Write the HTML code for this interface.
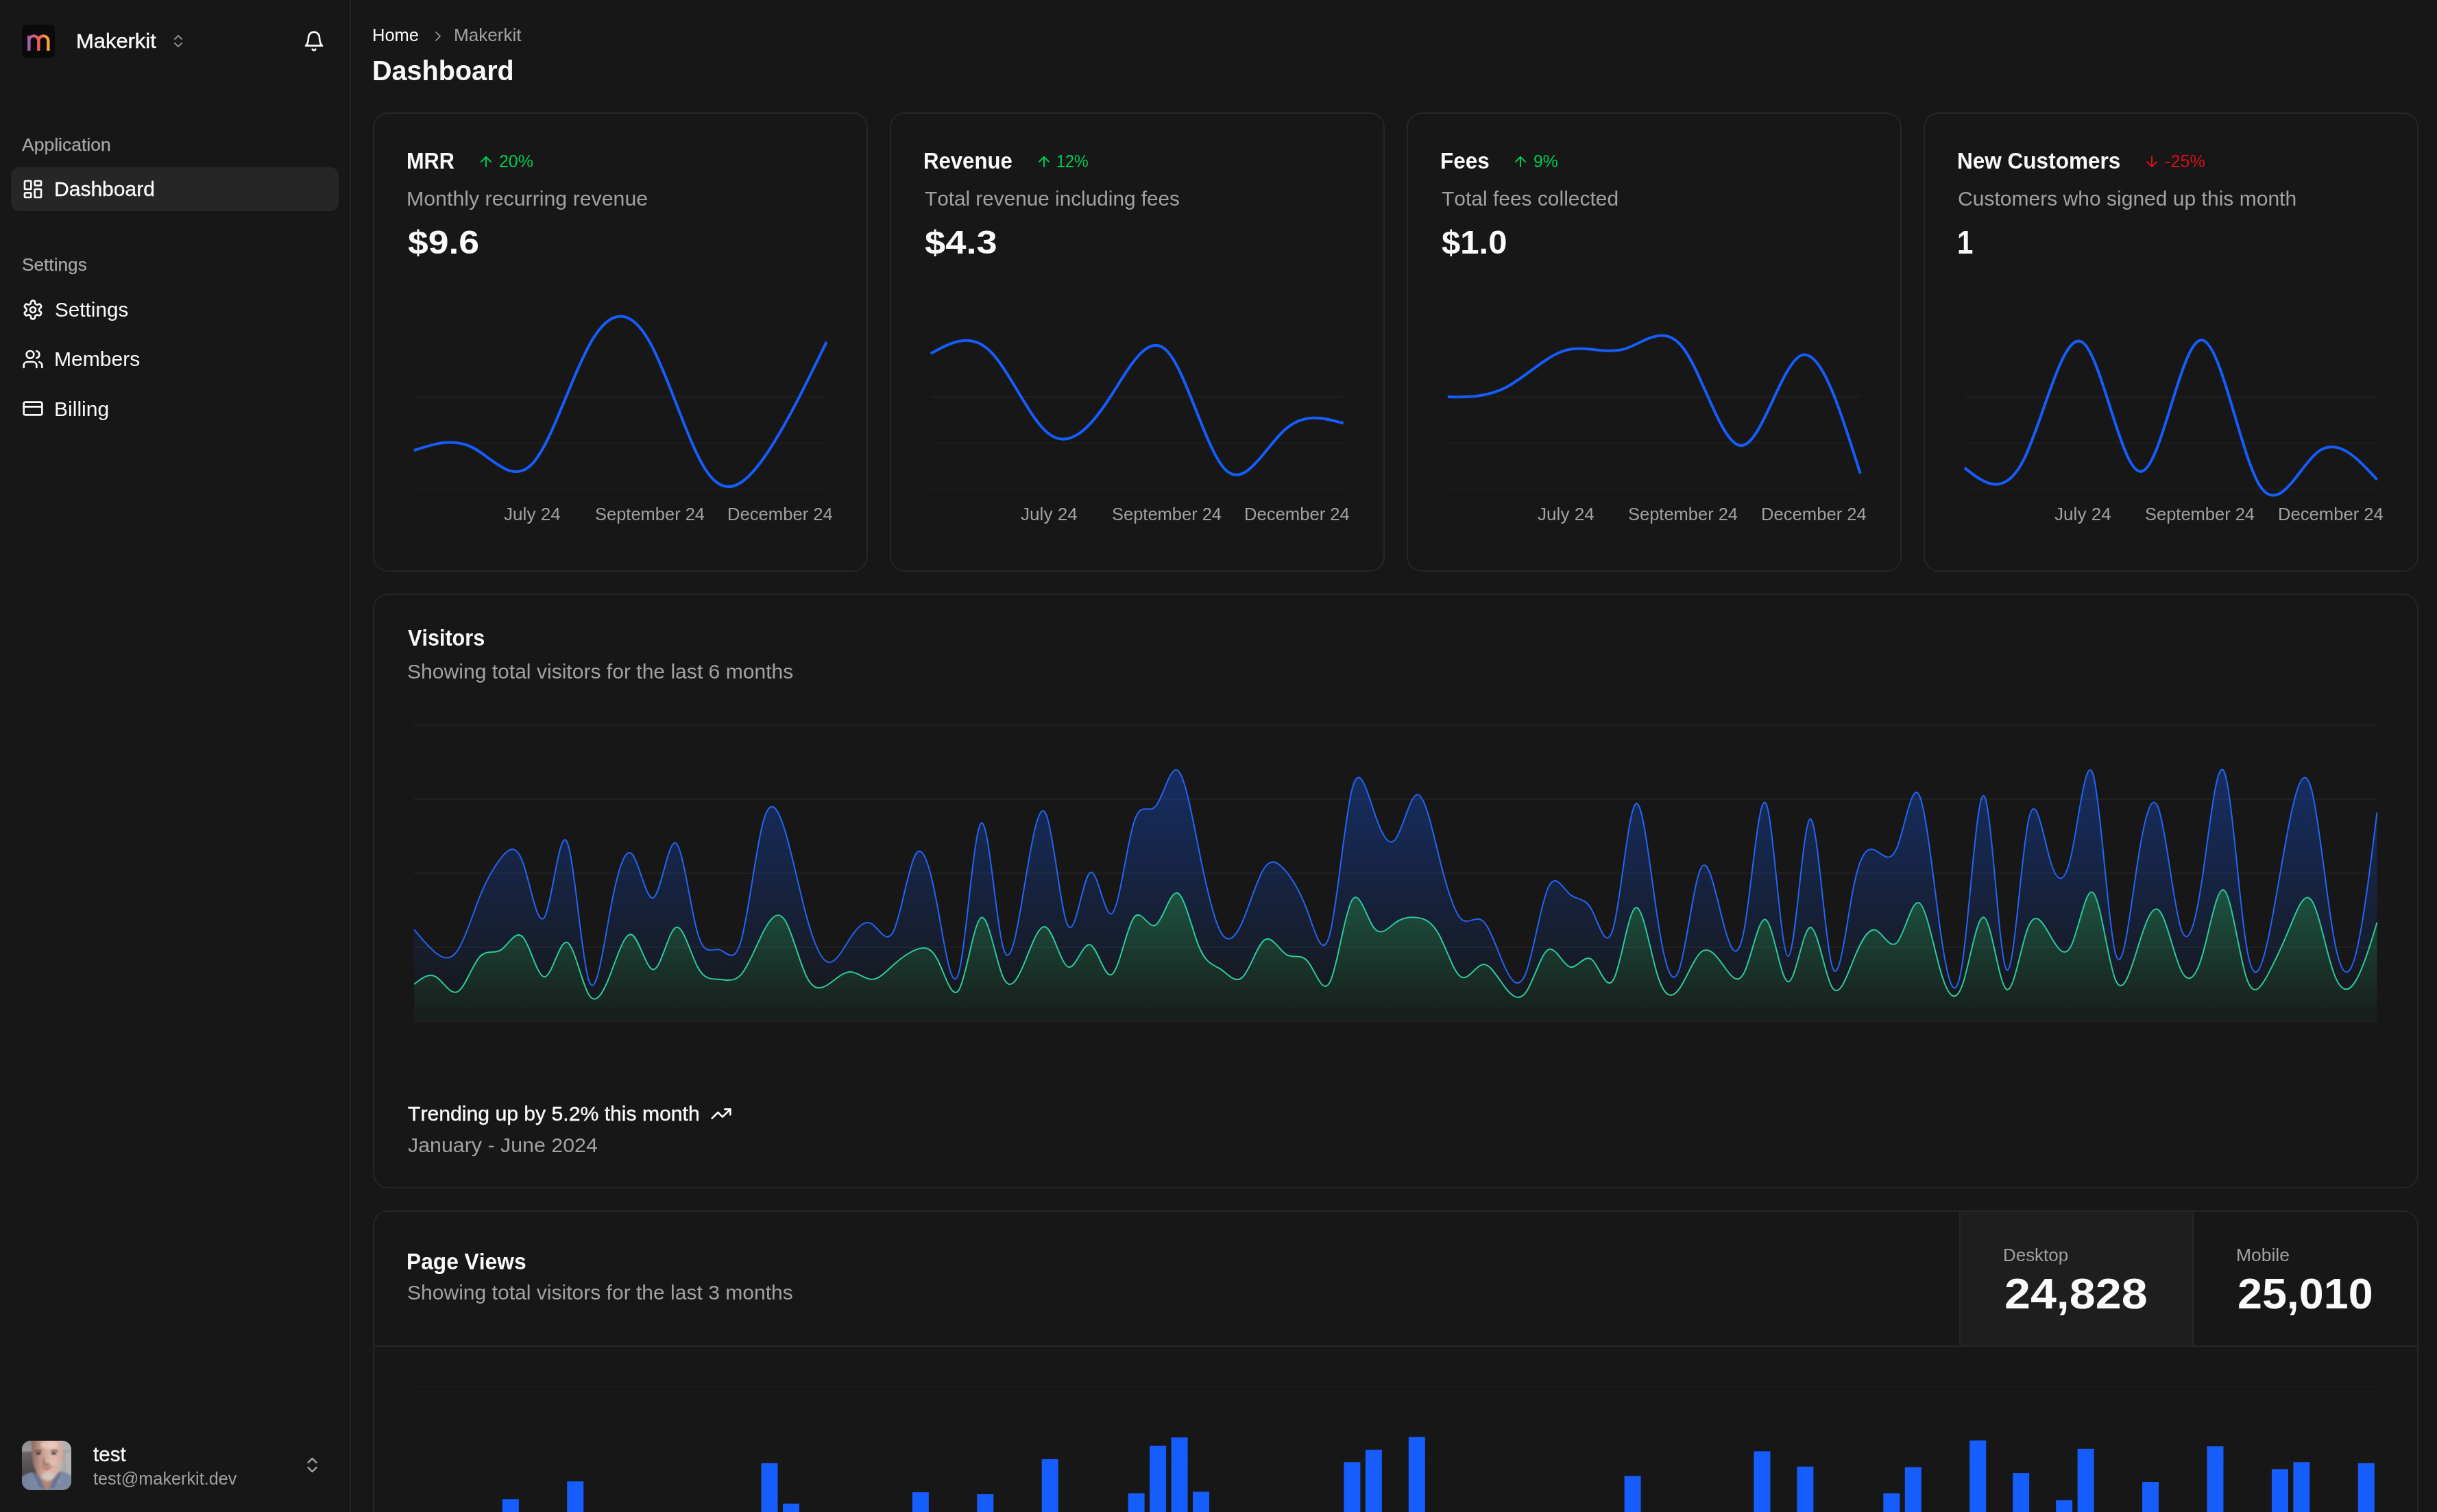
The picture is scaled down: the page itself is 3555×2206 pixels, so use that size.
<!DOCTYPE html>
<html lang="en"><head><meta charset="utf-8"><title>Dashboard</title>
<style>
html,body{margin:0;padding:0;background:#171717;}
body{width:3555px;height:2206px;position:relative;overflow:hidden;font-family:"Liberation Sans",sans-serif;font-kerning:none;}
.t{position:absolute;display:block;margin:0;padding:0;font-weight:400;white-space:nowrap;line-height:1;transform-origin:0 0;text-decoration:none;}
.w{display:contents;}
.b{position:absolute;display:block;}
#root{position:absolute;left:0;top:0;width:3555px;height:2206px;will-change:transform;}
</style></head><body><div id="root">
<aside class="w" aria-label="Sidebar">
<div class="b" style="left:510px;top:0px;width:2px;height:2206px;background:#262626;"></div>
<div class="b" style="left:32px;top:36px;width:48px;height:48px;background:#0a0a0a;border-radius:7px;"></div>
<svg class="b" style="left:32px;top:36px" width="48" height="48" viewBox="0 0 48 48" fill="none"><defs><linearGradient id="lg" x1="8" y1="0" x2="40" y2="0" gradientUnits="userSpaceOnUse"><stop offset="0" stop-color="#9b5fc0"/><stop offset="0.5" stop-color="#ee5a5a"/><stop offset="1" stop-color="#f7ad3c"/></linearGradient></defs><path d="M10.3 38V16M10.3 23.4a7 7 0 0 1 14 0V38M24.3 23.4a7 7 0 0 1 14 0V38" stroke="url(#lg)" stroke-width="4.4" stroke-linecap="butt"/></svg>
<div class="t" style="left:111.24px;top:44.81px;font-size:29.40px;color:#fafafa;transform:scaleX(1.0516);-webkit-text-stroke:0.35px #fafafa;">Makerkit</div>
<svg class="b" style="left:248.20px;top:48.20px;" width="24" height="24" viewBox="0 0 24 24" fill="none" stroke="#8c8c8c" stroke-width="2" stroke-linecap="round" stroke-linejoin="round"><path d="m7 15 5 5 5-5"/><path d="m7 9 5-5 5 5"/></svg>
<svg class="b" style="left:442.00px;top:43.85px;" width="32" height="32" viewBox="0 0 24 24" fill="none" stroke="#fafafa" stroke-width="2" stroke-linecap="round" stroke-linejoin="round"><path d="M6 8a6 6 0 0 1 12 0c0 7 3 9 3 9H3s3-2 3-9"/><path d="M10.3 21a1.94 1.94 0 0 0 3.4 0"/></svg>
<div class="t" style="left:32.47px;top:198.56px;font-size:25.20px;color:#a6a6a6;transform:scaleX(1.0523);-webkit-text-stroke:0.25px #a6a6a6;">Application</div>
<div class="b" style="left:16px;top:244px;width:478px;height:64px;background:#262626;border-radius:12px;"></div>
<svg class="b" style="left:32.00px;top:260.00px;" width="32" height="32" viewBox="0 0 24 24" fill="none" stroke="#fafafa" stroke-width="2" stroke-linecap="round" stroke-linejoin="round"><rect width="7" height="9" x="3" y="3" rx="1"/><rect width="7" height="5" x="14" y="3" rx="1"/><rect width="7" height="9" x="14" y="12" rx="1"/><rect width="7" height="5" x="3" y="16" rx="1"/></svg>
<a class="t" style="left:79.11px;top:261.21px;font-size:29.40px;color:#fafafa;transform:scaleX(1.0217);-webkit-text-stroke:0.35px #fafafa;">Dashboard</a>
<div class="t" style="left:31.53px;top:374.36px;font-size:25.20px;color:#a6a6a6;transform:scaleX(1.0410);-webkit-text-stroke:0.25px #a6a6a6;">Settings</div>
<svg class="b" style="left:32.00px;top:436.00px;" width="32" height="32" viewBox="0 0 24 24" fill="none" stroke="#fafafa" stroke-width="2" stroke-linecap="round" stroke-linejoin="round"><path d="M12.22 2h-.44a2 2 0 0 0-2 2v.18a2 2 0 0 1-1 1.73l-.43.25a2 2 0 0 1-2 0l-.15-.08a2 2 0 0 0-2.73.73l-.22.38a2 2 0 0 0 .73 2.73l.15.1a2 2 0 0 1 1 1.72v.51a2 2 0 0 1-1 1.74l-.15.09a2 2 0 0 0-.73 2.73l.22.38a2 2 0 0 0 2.73.73l.15-.08a2 2 0 0 1 2 0l.43.25a2 2 0 0 1 1 1.73V20a2 2 0 0 0 2 2h.44a2 2 0 0 0 2-2v-.18a2 2 0 0 1 1-1.73l.43-.25a2 2 0 0 1 2 0l.15.08a2 2 0 0 0 2.73-.73l.22-.39a2 2 0 0 0-.73-2.73l-.15-.08a2 2 0 0 1-1-1.74v-.5a2 2 0 0 1 1-1.74l.15-.09a2 2 0 0 0 .73-2.73l-.22-.38a2 2 0 0 0-2.73-.73l-.15.08a2 2 0 0 1-2 0l-.43-.25a2 2 0 0 1-1-1.73V4a2 2 0 0 0-2-2z"/><circle cx="12" cy="12" r="3"/></svg>
<a class="t" style="left:80.45px;top:437.01px;font-size:29.40px;color:#fafafa;transform:scaleX(1.0103);">Settings</a>
<svg class="b" style="left:32.00px;top:508.00px;" width="32" height="32" viewBox="0 0 24 24" fill="none" stroke="#fafafa" stroke-width="2" stroke-linecap="round" stroke-linejoin="round"><path d="M16 21v-2a4 4 0 0 0-4-4H6a4 4 0 0 0-4 4v2"/><circle cx="9" cy="7" r="4"/><path d="M22 21v-2a4 4 0 0 0-3-3.87"/><path d="M16 3.13a4 4 0 0 1 0 7.75"/></svg>
<a class="t" style="left:79.33px;top:509.11px;font-size:29.40px;color:#fafafa;transform:scaleX(1.0239);">Members</a>
<svg class="b" style="left:32.00px;top:580.00px;" width="32" height="32" viewBox="0 0 24 24" fill="none" stroke="#fafafa" stroke-width="2" stroke-linecap="round" stroke-linejoin="round"><rect width="20" height="14" x="2" y="5" rx="2"/><line x1="2" x2="22" y1="10" y2="10"/></svg>
<a class="t" style="left:79.33px;top:581.51px;font-size:29.40px;color:#fafafa;transform:scaleX(1.0225);">Billing</a>
<svg class="b" style="left:32px;top:2102px;border-radius:13px" width="72" height="72" viewBox="0 0 72 72">
<defs>
<filter id="bl" x="-10%" y="-10%" width="120%" height="120%"><feGaussianBlur stdDeviation="0.8"/></filter>
<filter id="bl2" x="-20%" y="-20%" width="140%" height="140%"><feGaussianBlur stdDeviation="1.8"/></filter>
<linearGradient id="fg" x1="0" y1="0" x2="1" y2="0"><stop offset="0" stop-color="#8a6a61"/><stop offset="0.3" stop-color="#c39b8c"/><stop offset="0.6" stop-color="#dbb8aa"/><stop offset="1" stop-color="#d3ada0"/></linearGradient>
<linearGradient id="bgl" x1="0" y1="0" x2="0" y2="1"><stop offset="0" stop-color="#8f8c8c"/><stop offset="0.2" stop-color="#9a9797"/><stop offset="0.24" stop-color="#6a6666"/><stop offset="0.6" stop-color="#4f4a4b"/><stop offset="1" stop-color="#3f3a3b"/></linearGradient>
<linearGradient id="sh" x1="0" y1="0" x2="1" y2="0"><stop offset="0" stop-color="#74829b"/><stop offset="0.5" stop-color="#7f8da7"/><stop offset="1" stop-color="#7b88a1"/></linearGradient>
</defs>
<rect width="72" height="72" fill="#b4b1b1"/>
<rect width="30" height="72" fill="url(#bgl)"/>
<g filter="url(#bl)">
<path d="M56 14.500h16v1.300H56zM61.500 15v40h1V15z" fill="#8f8c8c"/>
<path d="M-2 74V54c4-4 10-7 17-8l8 3 13 12 13-12 8-4c8 1 13 4 17 8v21z" fill="url(#sh)"/>
<path d="M25 58l11.500 16L48 58l-4-8H29z" fill="#ad8678"/>
<path d="M15 46l9 3 10 22-9-3zM58 44l-9 5-10 22 9-3z" fill="#65728a" opacity=".85"/>
<ellipse cx="59.500" cy="24" rx="2.500" ry="5.500" fill="#c59f92"/>
<path d="M14.500-6C14 20 15 38 23 49c5 7 10 10.500 14 10.500S46 56 51 49c8-11 8.500-29 8-55z" fill="url(#fg)"/>
</g>
<g filter="url(#bl2)">
<ellipse cx="40" cy="6" rx="13" ry="6" fill="#ecd0c3" opacity=".7"/>
<ellipse cx="37.500" cy="51.500" rx="8.500" ry="5" fill="#d2cac5" opacity=".9"/>
<ellipse cx="46" cy="30" rx="6" ry="7" fill="#e6c3b6" opacity=".5"/>
<path d="M31 21l-1.500 13h5z" fill="#7a5a52" opacity=".55"/>
</g>
<g filter="url(#bl)">
<path d="M18.500 15.800q5-2.600 10.500-.3M42 15.300q5.500-2.200 10.500.5" stroke="#5d453e" stroke-width="1.700" fill="none"/>
<ellipse cx="24" cy="18.600" rx="3.600" ry="1.500" fill="#33282a"/><ellipse cx="46.500" cy="18.600" rx="3.600" ry="1.500" fill="#33282a"/>
<path d="M31.500 33.600q4.500 1.800 9 0" stroke="#7d554c" stroke-width="1.300" fill="none"/>
<path d="M28.500 37.800q8-2 16 0" stroke="#6f554d" stroke-width="1.300" fill="none" opacity=".8"/>
<path d="M28.500 40.600q7.500-2 15.500 0q-7.500 3.600-15.500 0z" fill="#c4676b"/>
<circle cx="54.500" cy="60.500" r="1" fill="#c9ced8"/><circle cx="18.500" cy="60.500" r=".9" fill="#aab2c2"/>
</g>
</svg>
<div class="t" style="left:136.30px;top:2106.91px;font-size:29.40px;color:#fafafa;transform:scaleX(1.0058);-webkit-text-stroke:0.3px #fafafa;">test</div>
<div class="t" style="left:136.22px;top:2144.56px;font-size:25.20px;color:#a1a1a1;transform:scaleX(1.0025);">test@makerkit.dev</div>
<svg class="b" style="left:440.80px;top:2123.20px;" width="29" height="29" viewBox="0 0 24 24" fill="none" stroke="#a1a1a1" stroke-width="2" stroke-linecap="round" stroke-linejoin="round"><path d="m7 15 5 5 5-5"/><path d="m7 9 5-5 5 5"/></svg>
</aside>
<main class="w">
<header class="w">
<a class="t" style="left:543.21px;top:38.66px;font-size:25.20px;color:#fafafa;transform:scaleX(1.0120);">Home</a>
<svg class="b" style="left:626.65px;top:41.25px;" width="24" height="24" viewBox="0 0 24 24" fill="none" stroke="#a1a1a1" stroke-width="1.7" stroke-linecap="round" stroke-linejoin="round"><path d="m9 18 6-6-6-6"/></svg>
<span class="t" style="left:662.16px;top:38.66px;font-size:25.20px;color:#a1a1a1;transform:scaleX(1.0359);">Makerkit</span>
<h1 class="t" style="left:543.45px;top:83.35px;font-size:41.28px;color:#fafafa;font-weight:700;transform:scaleX(0.9590);">Dashboard</h1>
</header>
<section class="w">
<div class="b" style="left:544.2px;top:164px;width:721.875px;height:670px;box-sizing:border-box;border:2px solid #262626;border-radius:22px;"></div>
<h3 class="t" style="left:593.45px;top:219.31px;font-size:32.70px;color:#fafafa;font-weight:700;transform:scaleX(0.9383);">MRR</h3>
<svg class="b" style="left:697.20px;top:224.00px;" width="24" height="24" viewBox="0 0 24 24" fill="none" stroke="#00c950" stroke-width="2" stroke-linecap="round" stroke-linejoin="round"><path d="m5 12 7-7 7 7"/><path d="M12 19V5"/></svg>
<div class="t" style="left:728.44px;top:222.56px;font-size:25.20px;color:#00c950;transform:scaleX(0.9902);">20%</div>
<p class="t" style="left:593.01px;top:275.31px;font-size:29.40px;color:#a1a1a1;transform:scaleX(1.0316);">Monthly recurring revenue</p>
<div class="t" style="left:595.29px;top:328.85px;font-size:48.84px;color:#fafafa;font-weight:700;transform:scaleX(1.0956);">$9.6</div>
<svg class="b" style="left:544.20px;top:164px;overflow:visible" width="721.875" height="670" viewBox="544.20 164 721.875 670"><line x1="604.0" x2="1205.9" y1="578.9" y2="578.9" stroke="#1e1e1e" stroke-width="2"/><line x1="604.0" x2="1205.9" y1="646.3" y2="646.3" stroke="#1e1e1e" stroke-width="2"/><line x1="604.0" x2="1205.9" y1="713.7" y2="713.7" stroke="#1e1e1e" stroke-width="2"/><path d="M604,657.25C632.66,647.78,661.32,638.32,689.98,653.14C718.64,667.96,747.3,707.05,775.96,677.46C804.62,647.88,833.29,549.6,861.95,499.64C890.61,449.68,919.27,448.03,947.93,498.95C976.59,549.86,1005.25,653.34,1033.91,691.65C1062.57,729.97,1091.23,703.13,1119.89,660.13C1148.55,617.13,1177.21,557.97,1205.88,498.81" fill="none" stroke="#155dfc" stroke-width="4"/></svg>
<div class="t" style="left:734.99px;top:738.06px;font-size:25.20px;color:#a1a1a1;transform:scaleX(1.0379);">July 24</div>
<div class="t" style="left:867.64px;top:738.06px;font-size:25.20px;color:#a1a1a1;transform:scaleX(1.0114);">September 24</div>
<div class="t" style="left:1061.40px;top:738.06px;font-size:25.20px;color:#a1a1a1;transform:scaleX(1.0171);">December 24</div>
</section>
<section class="w">
<div class="b" style="left:1298.075px;top:164px;width:721.875px;height:670px;box-sizing:border-box;border:2px solid #262626;border-radius:22px;"></div>
<h3 class="t" style="left:1347.29px;top:219.31px;font-size:32.70px;color:#fafafa;font-weight:700;transform:scaleX(0.9525);">Revenue</h3>
<svg class="b" style="left:1510.58px;top:224.00px;" width="24" height="24" viewBox="0 0 24 24" fill="none" stroke="#00c950" stroke-width="2" stroke-linecap="round" stroke-linejoin="round"><path d="m5 12 7-7 7 7"/><path d="M12 19V5"/></svg>
<div class="t" style="left:1541.30px;top:222.56px;font-size:25.20px;color:#00c950;transform:scaleX(0.9240);">12%</div>
<p class="t" style="left:1348.71px;top:275.31px;font-size:29.40px;color:#a1a1a1;transform:scaleX(1.0117);">Total revenue including fees</p>
<div class="t" style="left:1349.16px;top:328.85px;font-size:48.84px;color:#fafafa;font-weight:700;transform:scaleX(1.1118);">$4.3</div>
<svg class="b" style="left:1298.08px;top:164px;overflow:visible" width="721.875" height="670" viewBox="1298.08 164 721.875 670"><line x1="1357.9" x2="1959.8" y1="578.9" y2="578.9" stroke="#1e1e1e" stroke-width="2"/><line x1="1357.9" x2="1959.8" y1="646.3" y2="646.3" stroke="#1e1e1e" stroke-width="2"/><line x1="1357.9" x2="1959.8" y1="713.7" y2="713.7" stroke="#1e1e1e" stroke-width="2"/><path d="M1357.88,515.88C1386.54,500,1415.2,484.11,1443.86,511.75C1472.52,539.39,1501.18,610.57,1529.84,632.76C1558.5,654.96,1587.16,628.18,1615.82,585.07C1644.48,541.97,1673.14,482.53,1701.8,511.3C1730.46,540.06,1759.12,657.02,1787.79,685.41C1816.45,713.8,1845.11,653.61,1873.77,627.53C1902.43,601.45,1931.09,609.48,1959.75,617.51" fill="none" stroke="#155dfc" stroke-width="4"/></svg>
<div class="t" style="left:1488.87px;top:738.06px;font-size:25.20px;color:#a1a1a1;transform:scaleX(1.0379);">July 24</div>
<div class="t" style="left:1621.52px;top:738.06px;font-size:25.20px;color:#a1a1a1;transform:scaleX(1.0114);">September 24</div>
<div class="t" style="left:1815.27px;top:738.06px;font-size:25.20px;color:#a1a1a1;transform:scaleX(1.0171);">December 24</div>
</section>
<section class="w">
<div class="b" style="left:2051.95px;top:164px;width:721.875px;height:670px;box-sizing:border-box;border:2px solid #262626;border-radius:22px;"></div>
<h3 class="t" style="left:2101.15px;top:219.31px;font-size:32.70px;color:#fafafa;font-weight:700;transform:scaleX(0.9618);">Fees</h3>
<svg class="b" style="left:2206.05px;top:224.00px;" width="24" height="24" viewBox="0 0 24 24" fill="none" stroke="#00c950" stroke-width="2" stroke-linecap="round" stroke-linejoin="round"><path d="m5 12 7-7 7 7"/><path d="M12 19V5"/></svg>
<div class="t" style="left:2237.38px;top:222.56px;font-size:25.20px;color:#00c950;transform:scaleX(0.9871);">9%</div>
<p class="t" style="left:2102.58px;top:275.31px;font-size:29.40px;color:#a1a1a1;transform:scaleX(1.0194);">Total fees collected</p>
<div class="t" style="left:2103.10px;top:328.85px;font-size:48.84px;color:#fafafa;font-weight:700;transform:scaleX(1.0043);">$1.0</div>
<svg class="b" style="left:2051.95px;top:164px;overflow:visible" width="721.875" height="670" viewBox="2051.95 164 721.875 670"><line x1="2111.8" x2="2713.6" y1="578.9" y2="578.9" stroke="#1e1e1e" stroke-width="2"/><line x1="2111.8" x2="2713.6" y1="646.3" y2="646.3" stroke="#1e1e1e" stroke-width="2"/><line x1="2111.8" x2="2713.6" y1="713.7" y2="713.7" stroke="#1e1e1e" stroke-width="2"/><path d="M2111.75,579.1C2140.41,579.45,2169.07,579.81,2197.73,564.75C2226.39,549.69,2255.05,519.22,2283.71,511.14C2312.38,503.05,2341.04,517.35,2369.7,509.06C2398.36,500.76,2427.02,469.87,2455.68,508.2C2484.34,546.53,2513,654.08,2541.66,650.02C2570.32,645.96,2598.98,530.29,2627.64,518.5C2656.3,506.7,2684.96,598.78,2713.62,690.85" fill="none" stroke="#155dfc" stroke-width="4"/></svg>
<div class="t" style="left:2242.74px;top:738.06px;font-size:25.20px;color:#a1a1a1;transform:scaleX(1.0379);">July 24</div>
<div class="t" style="left:2375.39px;top:738.06px;font-size:25.20px;color:#a1a1a1;transform:scaleX(1.0114);">September 24</div>
<div class="t" style="left:2569.15px;top:738.06px;font-size:25.20px;color:#a1a1a1;transform:scaleX(1.0171);">December 24</div>
</section>
<section class="w">
<div class="b" style="left:2805.825px;top:164px;width:721.875px;height:670px;box-sizing:border-box;border:2px solid #262626;border-radius:22px;"></div>
<h3 class="t" style="left:2855.01px;top:219.31px;font-size:32.70px;color:#fafafa;font-weight:700;transform:scaleX(0.9646);">New Customers</h3>
<svg class="b" style="left:3126.62px;top:224.00px;" width="24" height="24" viewBox="0 0 24 24" fill="none" stroke="#d4111e" stroke-width="2" stroke-linecap="round" stroke-linejoin="round"><path d="M12 5v14"/><path d="m19 12-7 7-7-7"/></svg>
<div class="t" style="left:3158.01px;top:222.56px;font-size:25.20px;color:#d4111e;">-25%</div>
<p class="t" style="left:2855.60px;top:275.31px;font-size:29.40px;color:#a1a1a1;transform:scaleX(1.0219);">Customers who signed up this month</p>
<div class="t" style="left:2854.98px;top:328.85px;font-size:48.84px;color:#fafafa;font-weight:700;transform:scaleX(0.8600);">1</div>
<svg class="b" style="left:2805.82px;top:164px;overflow:visible" width="721.875" height="670" viewBox="2805.82 164 721.875 670"><line x1="2865.6" x2="3467.5" y1="578.9" y2="578.9" stroke="#1e1e1e" stroke-width="2"/><line x1="2865.6" x2="3467.5" y1="646.3" y2="646.3" stroke="#1e1e1e" stroke-width="2"/><line x1="2865.6" x2="3467.5" y1="713.7" y2="713.7" stroke="#1e1e1e" stroke-width="2"/><path d="M2865.62,682.59C2894.29,705.12,2922.95,727.65,2951.61,671.44C2980.27,615.22,3008.93,480.25,3037.59,499.45C3066.25,518.66,3094.91,692.03,3123.57,687.92C3152.23,683.81,3180.89,502.21,3209.55,496.17C3238.21,490.13,3266.88,659.65,3295.54,707.26C3324.2,754.86,3352.86,680.55,3381.52,659.01C3410.18,637.47,3438.84,668.69,3467.5,699.92" fill="none" stroke="#155dfc" stroke-width="4"/></svg>
<div class="t" style="left:2996.62px;top:738.06px;font-size:25.20px;color:#a1a1a1;transform:scaleX(1.0379);">July 24</div>
<div class="t" style="left:3129.27px;top:738.06px;font-size:25.20px;color:#a1a1a1;transform:scaleX(1.0114);">September 24</div>
<div class="t" style="left:3323.02px;top:738.06px;font-size:25.20px;color:#a1a1a1;transform:scaleX(1.0171);">December 24</div>
</section>
<section class="w">
<div class="b" style="left:544px;top:866px;width:2983.6px;height:868px;box-sizing:border-box;border:2px solid #262626;border-radius:22px;"></div>
<h3 class="t" style="left:594.99px;top:915.01px;font-size:32.70px;color:#fafafa;font-weight:700;transform:scaleX(0.9359);">Visitors</h3>
<p class="t" style="left:593.83px;top:965.31px;font-size:29.40px;color:#a1a1a1;transform:scaleX(1.0232);">Showing total visitors for the last 6 months</p>
<svg class="b" style="left:0;top:0;overflow:visible" width="3555" height="2206" viewBox="0 0 3555 2206"><defs><linearGradient id="gd" x1="0" y1="0" x2="0" y2="1"><stop offset="5%" stop-color="#155dfc" stop-opacity="0.8"/><stop offset="95%" stop-color="#155dfc" stop-opacity="0.1"/></linearGradient><linearGradient id="gm" x1="0" y1="0" x2="0" y2="1"><stop offset="5%" stop-color="#2ccf96" stop-opacity="0.8"/><stop offset="95%" stop-color="#2ccf96" stop-opacity="0.1"/></linearGradient></defs><line x1="604.0" x2="3467.5" y1="1058.0" y2="1058.0" stroke="#202020" stroke-width="2"/><line x1="604.0" x2="3467.5" y1="1166.0" y2="1166.0" stroke="#202020" stroke-width="2"/><line x1="604.0" x2="3467.5" y1="1274.0" y2="1274.0" stroke="#202020" stroke-width="2"/><line x1="604.0" x2="3467.5" y1="1382.0" y2="1382.0" stroke="#202020" stroke-width="2"/><line x1="604.0" x2="3467.5" y1="1490.0" y2="1490.0" stroke="#202020" stroke-width="2"/><path d="M604,1436C614.61,1427.46,625.21,1418.93,635.82,1425.2C646.42,1431.47,657.03,1452.55,667.63,1446.8C678.24,1441.05,688.84,1408.46,699.45,1396.4C710.06,1384.34,720.66,1392.83,731.27,1385.6C741.87,1378.37,752.48,1355.44,763.08,1367.6C773.69,1379.76,784.29,1427,794.9,1425.2C805.51,1423.4,816.11,1372.56,826.72,1374.8C837.32,1377.04,847.93,1432.37,858.53,1450.4C869.14,1468.43,879.74,1449.16,890.35,1421.6C900.96,1394.04,911.56,1358.2,922.17,1364C932.77,1369.8,943.38,1417.25,953.98,1414.4C964.59,1411.55,975.19,1358.39,985.8,1353.2C996.41,1348.01,1007.01,1390.78,1017.62,1410.8C1028.22,1430.82,1038.83,1428.09,1049.43,1428.8C1060.04,1429.51,1070.64,1433.68,1081.25,1421.6C1091.86,1409.52,1102.46,1381.21,1113.07,1360.4C1123.67,1339.59,1134.28,1326.28,1144.88,1342.4C1155.49,1358.52,1166.09,1404.05,1176.7,1425.2C1187.31,1446.35,1197.91,1443.1,1208.52,1436C1219.12,1428.9,1229.73,1417.95,1240.33,1418C1250.94,1418.05,1261.54,1429.11,1272.15,1428.8C1282.76,1428.49,1293.36,1416.81,1303.97,1407.2C1314.57,1397.59,1325.18,1390.06,1335.78,1385.6C1346.39,1381.14,1356.99,1379.76,1367.6,1400C1378.21,1420.24,1388.81,1462.11,1399.42,1443.2C1410.02,1424.29,1420.63,1344.6,1431.23,1338.8C1441.84,1333,1452.44,1401.08,1463.05,1425.2C1473.66,1449.32,1484.26,1429.47,1494.87,1403.6C1505.47,1377.73,1516.08,1345.82,1526.68,1353.2C1537.29,1360.58,1547.89,1407.24,1558.5,1410.8C1569.11,1414.36,1579.71,1374.81,1590.32,1378.4C1600.92,1381.99,1611.53,1428.73,1622.13,1421.6C1632.74,1414.47,1643.34,1353.48,1653.95,1338.8C1664.56,1324.12,1675.16,1355.76,1685.77,1349.6C1696.37,1343.44,1706.98,1299.48,1717.58,1302.8C1728.19,1306.12,1738.79,1356.73,1749.4,1382C1760.01,1407.27,1770.61,1407.21,1781.22,1414.4C1791.82,1421.59,1802.43,1436.05,1813.03,1425.2C1823.64,1414.35,1834.24,1378.2,1844.85,1371.2C1855.46,1364.2,1866.06,1386.36,1876.67,1392.8C1887.27,1399.24,1897.88,1389.96,1908.48,1403.6C1919.09,1417.24,1929.69,1453.79,1940.3,1432.4C1950.91,1411.01,1961.51,1331.68,1972.12,1313.6C1982.72,1295.52,1993.33,1338.68,2003.93,1353.2C2014.54,1367.72,2025.14,1353.6,2035.75,1346C2046.36,1338.4,2056.96,1337.32,2067.57,1338.8C2078.17,1340.28,2088.78,1344.34,2099.38,1364C2109.99,1383.66,2120.59,1418.94,2131.2,1425.2C2141.81,1431.46,2152.41,1408.71,2163.02,1407.2C2173.62,1405.69,2184.23,1425.43,2194.83,1439.6C2205.44,1453.77,2216.04,1462.39,2226.65,1446.8C2237.26,1431.21,2247.86,1391.42,2258.47,1385.6C2269.07,1379.78,2279.68,1407.92,2290.28,1410.8C2300.89,1413.68,2311.49,1391.3,2322.1,1400C2332.71,1408.7,2343.31,1448.49,2353.92,1428.8C2364.52,1409.11,2375.13,1329.96,2385.73,1324.4C2396.34,1318.84,2406.94,1386.89,2417.55,1421.6C2428.16,1456.31,2438.76,1457.7,2449.37,1443.2C2459.97,1428.7,2470.58,1398.33,2481.18,1389.2C2491.79,1380.07,2502.39,1392.18,2513,1407.2C2523.61,1422.22,2534.21,1440.16,2544.82,1418C2555.42,1395.84,2566.03,1333.59,2576.63,1342.4C2587.24,1351.21,2597.84,1431.08,2608.45,1432.4C2619.06,1433.72,2629.66,1356.51,2640.27,1353.2C2650.87,1349.89,2661.48,1420.5,2672.08,1439.6C2682.69,1458.7,2693.29,1426.29,2703.9,1400C2714.51,1373.71,2725.11,1353.56,2735.72,1356.8C2746.32,1360.04,2756.93,1386.69,2767.53,1374.8C2778.14,1362.91,2788.74,1312.47,2799.35,1317.2C2809.96,1321.93,2820.56,1381.81,2831.17,1418C2841.77,1454.19,2852.38,1466.69,2862.98,1436C2873.59,1405.31,2884.19,1331.43,2894.8,1338.8C2905.41,1346.17,2916.01,1434.8,2926.62,1443.2C2937.22,1451.6,2947.83,1379.77,2958.43,1353.2C2969.04,1326.63,2979.64,1345.33,2990.25,1364C3000.86,1382.67,3011.46,1401.3,3022.07,1378.4C3032.67,1355.5,3043.28,1291.06,3053.88,1302.8C3064.49,1314.54,3075.09,1402.46,3085.7,1428.8C3096.31,1455.14,3106.91,1419.9,3117.52,1385.6C3128.12,1351.3,3138.73,1317.94,3149.33,1328C3159.94,1338.06,3170.54,1391.52,3181.15,1414.4C3191.76,1437.28,3202.36,1429.56,3212.97,1392.8C3223.57,1356.04,3234.18,1290.24,3244.78,1299.2C3255.39,1308.16,3265.99,1391.87,3276.6,1425.2C3287.21,1458.53,3297.81,1441.48,3308.42,1421.6C3319.02,1401.72,3329.63,1379.01,3340.23,1353.2C3350.84,1327.39,3361.44,1298.48,3372.05,1313.6C3382.66,1328.72,3393.26,1387.87,3403.87,1418C3414.47,1448.13,3425.08,1449.24,3435.68,1432.4C3446.29,1415.56,3456.89,1380.78,3467.5,1346L3467.5,1490.0L604,1490.0Z" fill="url(#gm)" fill-opacity="0.4"/><path d="M604,1436C614.61,1427.46,625.21,1418.93,635.82,1425.2C646.42,1431.47,657.03,1452.55,667.63,1446.8C678.24,1441.05,688.84,1408.46,699.45,1396.4C710.06,1384.34,720.66,1392.83,731.27,1385.6C741.87,1378.37,752.48,1355.44,763.08,1367.6C773.69,1379.76,784.29,1427,794.9,1425.2C805.51,1423.4,816.11,1372.56,826.72,1374.8C837.32,1377.04,847.93,1432.37,858.53,1450.4C869.14,1468.43,879.74,1449.16,890.35,1421.6C900.96,1394.04,911.56,1358.2,922.17,1364C932.77,1369.8,943.38,1417.25,953.98,1414.4C964.59,1411.55,975.19,1358.39,985.8,1353.2C996.41,1348.01,1007.01,1390.78,1017.62,1410.8C1028.22,1430.82,1038.83,1428.09,1049.43,1428.8C1060.04,1429.51,1070.64,1433.68,1081.25,1421.6C1091.86,1409.52,1102.46,1381.21,1113.07,1360.4C1123.67,1339.59,1134.28,1326.28,1144.88,1342.4C1155.49,1358.52,1166.09,1404.05,1176.7,1425.2C1187.31,1446.35,1197.91,1443.1,1208.52,1436C1219.12,1428.9,1229.73,1417.95,1240.33,1418C1250.94,1418.05,1261.54,1429.11,1272.15,1428.8C1282.76,1428.49,1293.36,1416.81,1303.97,1407.2C1314.57,1397.59,1325.18,1390.06,1335.78,1385.6C1346.39,1381.14,1356.99,1379.76,1367.6,1400C1378.21,1420.24,1388.81,1462.11,1399.42,1443.2C1410.02,1424.29,1420.63,1344.6,1431.23,1338.8C1441.84,1333,1452.44,1401.08,1463.05,1425.2C1473.66,1449.32,1484.26,1429.47,1494.87,1403.6C1505.47,1377.73,1516.08,1345.82,1526.68,1353.2C1537.29,1360.58,1547.89,1407.24,1558.5,1410.8C1569.11,1414.36,1579.71,1374.81,1590.32,1378.4C1600.92,1381.99,1611.53,1428.73,1622.13,1421.6C1632.74,1414.47,1643.34,1353.48,1653.95,1338.8C1664.56,1324.12,1675.16,1355.76,1685.77,1349.6C1696.37,1343.44,1706.98,1299.48,1717.58,1302.8C1728.19,1306.12,1738.79,1356.73,1749.4,1382C1760.01,1407.27,1770.61,1407.21,1781.22,1414.4C1791.82,1421.59,1802.43,1436.05,1813.03,1425.2C1823.64,1414.35,1834.24,1378.2,1844.85,1371.2C1855.46,1364.2,1866.06,1386.36,1876.67,1392.8C1887.27,1399.24,1897.88,1389.96,1908.48,1403.6C1919.09,1417.24,1929.69,1453.79,1940.3,1432.4C1950.91,1411.01,1961.51,1331.68,1972.12,1313.6C1982.72,1295.52,1993.33,1338.68,2003.93,1353.2C2014.54,1367.72,2025.14,1353.6,2035.75,1346C2046.36,1338.4,2056.96,1337.32,2067.57,1338.8C2078.17,1340.28,2088.78,1344.34,2099.38,1364C2109.99,1383.66,2120.59,1418.94,2131.2,1425.2C2141.81,1431.46,2152.41,1408.71,2163.02,1407.2C2173.62,1405.69,2184.23,1425.43,2194.83,1439.6C2205.44,1453.77,2216.04,1462.39,2226.65,1446.8C2237.26,1431.21,2247.86,1391.42,2258.47,1385.6C2269.07,1379.78,2279.68,1407.92,2290.28,1410.8C2300.89,1413.68,2311.49,1391.3,2322.1,1400C2332.71,1408.7,2343.31,1448.49,2353.92,1428.8C2364.52,1409.11,2375.13,1329.96,2385.73,1324.4C2396.34,1318.84,2406.94,1386.89,2417.55,1421.6C2428.16,1456.31,2438.76,1457.7,2449.37,1443.2C2459.97,1428.7,2470.58,1398.33,2481.18,1389.2C2491.79,1380.07,2502.39,1392.18,2513,1407.2C2523.61,1422.22,2534.21,1440.16,2544.82,1418C2555.42,1395.84,2566.03,1333.59,2576.63,1342.4C2587.24,1351.21,2597.84,1431.08,2608.45,1432.4C2619.06,1433.72,2629.66,1356.51,2640.27,1353.2C2650.87,1349.89,2661.48,1420.5,2672.08,1439.6C2682.69,1458.7,2693.29,1426.29,2703.9,1400C2714.51,1373.71,2725.11,1353.56,2735.72,1356.8C2746.32,1360.04,2756.93,1386.69,2767.53,1374.8C2778.14,1362.91,2788.74,1312.47,2799.35,1317.2C2809.96,1321.93,2820.56,1381.81,2831.17,1418C2841.77,1454.19,2852.38,1466.69,2862.98,1436C2873.59,1405.31,2884.19,1331.43,2894.8,1338.8C2905.41,1346.17,2916.01,1434.8,2926.62,1443.2C2937.22,1451.6,2947.83,1379.77,2958.43,1353.2C2969.04,1326.63,2979.64,1345.33,2990.25,1364C3000.86,1382.67,3011.46,1401.3,3022.07,1378.4C3032.67,1355.5,3043.28,1291.06,3053.88,1302.8C3064.49,1314.54,3075.09,1402.46,3085.7,1428.8C3096.31,1455.14,3106.91,1419.9,3117.52,1385.6C3128.12,1351.3,3138.73,1317.94,3149.33,1328C3159.94,1338.06,3170.54,1391.52,3181.15,1414.4C3191.76,1437.28,3202.36,1429.56,3212.97,1392.8C3223.57,1356.04,3234.18,1290.24,3244.78,1299.2C3255.39,1308.16,3265.99,1391.87,3276.6,1425.2C3287.21,1458.53,3297.81,1441.48,3308.42,1421.6C3319.02,1401.72,3329.63,1379.01,3340.23,1353.2C3350.84,1327.39,3361.44,1298.48,3372.05,1313.6C3382.66,1328.72,3393.26,1387.87,3403.87,1418C3414.47,1448.13,3425.08,1449.24,3435.68,1432.4C3446.29,1415.56,3456.89,1380.78,3467.5,1346" fill="none" stroke="#2ccf96" stroke-width="2"/><path d="M604,1356.08C614.61,1369.01,625.21,1381.94,635.82,1390.28C646.42,1398.62,657.03,1402.37,667.63,1386.68C678.24,1370.99,688.84,1335.87,699.45,1309.28C710.06,1282.69,720.66,1264.64,731.27,1251.32C741.87,1238,752.48,1229.43,763.08,1259.24C773.69,1289.05,784.29,1357.24,794.9,1337C805.51,1316.76,816.11,1208.08,826.72,1227.56C837.32,1247.04,847.93,1394.68,858.53,1429.16C869.14,1463.64,879.74,1384.95,890.35,1327.64C900.96,1270.33,911.56,1234.41,922.17,1246.28C932.77,1258.15,943.38,1317.8,953.98,1309.28C964.59,1300.76,975.19,1224.07,985.8,1230.08C996.41,1236.09,1007.01,1324.79,1017.62,1361.48C1028.22,1398.17,1038.83,1382.85,1049.43,1385.6C1060.04,1388.35,1070.64,1409.18,1081.25,1371.92C1091.86,1334.66,1102.46,1239.31,1113.07,1199.84C1123.67,1160.37,1134.28,1176.77,1144.88,1211.36C1155.49,1245.95,1166.09,1298.73,1176.7,1337.72C1187.31,1376.71,1197.91,1401.92,1208.52,1403.96C1219.12,1406,1229.73,1384.89,1240.33,1368.68C1250.94,1352.47,1261.54,1341.18,1272.15,1348.16C1282.76,1355.14,1293.36,1380.39,1303.97,1357.52C1314.57,1334.65,1325.18,1263.67,1335.78,1246.28C1346.39,1228.89,1356.99,1265.08,1367.6,1322.6C1378.21,1380.12,1388.81,1458.95,1399.42,1416.2C1410.02,1373.45,1420.63,1209.11,1431.23,1200.92C1441.84,1192.73,1452.44,1340.68,1463.05,1381.28C1473.66,1421.88,1484.26,1355.15,1494.87,1290.2C1505.47,1225.25,1516.08,1162.1,1526.68,1189.76C1537.29,1217.42,1547.89,1335.89,1558.5,1351.4C1569.11,1366.91,1579.71,1279.47,1590.32,1272.92C1600.92,1266.37,1611.53,1340.73,1622.13,1332.68C1632.74,1324.63,1643.34,1234.19,1653.95,1200.2C1664.56,1166.21,1675.16,1188.67,1685.77,1176.44C1696.37,1164.21,1706.98,1117.3,1717.58,1123.52C1728.19,1129.74,1738.79,1189.1,1749.4,1242.32C1760.01,1295.54,1770.61,1342.64,1781.22,1360.76C1791.82,1378.88,1802.43,1368.03,1813.03,1343.48C1823.64,1318.93,1834.24,1280.68,1844.85,1265.72C1855.46,1250.76,1866.06,1259.1,1876.67,1272.2C1887.27,1285.3,1897.88,1303.15,1908.48,1332.68C1919.09,1362.21,1929.69,1403.41,1940.3,1361.48C1950.91,1319.55,1961.51,1194.47,1972.12,1152.32C1982.72,1110.17,1993.33,1150.95,2003.93,1182.92C2014.54,1214.89,2025.14,1238.07,2035.75,1224.32C2046.36,1210.57,2056.96,1159.9,2067.57,1159.16C2078.17,1158.42,2088.78,1207.62,2099.38,1250.6C2109.99,1293.58,2120.59,1330.36,2131.2,1340.6C2141.81,1350.84,2152.41,1334.55,2163.02,1343.48C2173.62,1352.41,2184.23,1386.55,2194.83,1410.08C2205.44,1433.61,2216.04,1446.52,2226.65,1417.64C2237.26,1388.76,2247.86,1318.1,2258.47,1294.88C2269.07,1271.66,2279.68,1295.89,2290.28,1304.96C2300.89,1314.03,2311.49,1307.93,2322.1,1327.64C2332.71,1347.35,2343.31,1392.88,2353.92,1352.12C2364.52,1311.36,2375.13,1184.31,2385.73,1173.2C2396.34,1162.09,2406.94,1266.91,2417.55,1337.72C2428.16,1408.53,2438.76,1445.33,2449.37,1415.12C2459.97,1384.91,2470.58,1287.7,2481.18,1266.8C2491.79,1245.9,2502.39,1301.33,2513,1343.12C2523.61,1384.91,2534.21,1413.07,2544.82,1353.92C2555.42,1294.77,2566.03,1148.32,2576.63,1173.2C2587.24,1198.08,2597.84,1394.28,2608.45,1395.32C2619.06,1396.36,2629.66,1202.22,2640.27,1195.16C2650.87,1188.1,2661.48,1368.12,2672.08,1407.92C2682.69,1447.72,2693.29,1347.32,2703.9,1294.16C2714.51,1241,2725.11,1235.09,2735.72,1240.52C2746.32,1245.95,2756.93,1262.71,2767.53,1236.2C2778.14,1209.69,2788.74,1139.92,2799.35,1159.52C2809.96,1179.12,2820.56,1288.08,2831.17,1362.2C2841.77,1436.32,2852.38,1475.59,2862.98,1402.88C2873.59,1330.17,2884.19,1145.47,2894.8,1161.68C2905.41,1177.89,2916.01,1395.01,2926.62,1414.04C2937.22,1433.07,2947.83,1254.02,2958.43,1199.84C2969.04,1145.66,2979.64,1216.35,2990.25,1253.48C3000.86,1290.61,3011.46,1294.17,3022.07,1244.84C3032.67,1195.51,3043.28,1093.29,3053.88,1131.8C3064.49,1170.31,3075.09,1349.55,3085.7,1390.28C3096.31,1431.01,3106.91,1333.23,3117.52,1262.84C3128.12,1192.45,3138.73,1149.46,3149.33,1181.12C3159.94,1212.78,3170.54,1319.11,3181.15,1353.56C3191.76,1388.01,3202.36,1350.59,3212.97,1278.68C3223.57,1206.77,3234.18,1100.37,3244.78,1126.4C3255.39,1152.43,3265.99,1310.88,3276.6,1377.68C3287.21,1444.48,3297.81,1419.62,3308.42,1370.84C3319.02,1322.06,3329.63,1249.36,3340.23,1196.96C3350.84,1144.56,3361.44,1112.47,3372.05,1152.32C3382.66,1192.17,3393.26,1303.98,3403.87,1364.36C3414.47,1424.74,3425.08,1433.71,3435.68,1395.32C3446.29,1356.93,3456.89,1271.19,3467.5,1185.44L3467.5,1346C3456.89,1380.78,3446.29,1415.56,3435.68,1432.4C3425.08,1449.24,3414.47,1448.13,3403.87,1418C3393.26,1387.87,3382.66,1328.72,3372.05,1313.6C3361.44,1298.48,3350.84,1327.39,3340.23,1353.2C3329.63,1379.01,3319.02,1401.72,3308.42,1421.6C3297.81,1441.48,3287.21,1458.53,3276.6,1425.2C3265.99,1391.87,3255.39,1308.16,3244.78,1299.2C3234.18,1290.24,3223.57,1356.04,3212.97,1392.8C3202.36,1429.56,3191.76,1437.28,3181.15,1414.4C3170.54,1391.52,3159.94,1338.06,3149.33,1328C3138.73,1317.94,3128.12,1351.3,3117.52,1385.6C3106.91,1419.9,3096.31,1455.14,3085.7,1428.8C3075.09,1402.46,3064.49,1314.54,3053.88,1302.8C3043.28,1291.06,3032.67,1355.5,3022.07,1378.4C3011.46,1401.3,3000.86,1382.67,2990.25,1364C2979.64,1345.33,2969.04,1326.63,2958.43,1353.2C2947.83,1379.77,2937.22,1451.6,2926.62,1443.2C2916.01,1434.8,2905.41,1346.17,2894.8,1338.8C2884.19,1331.43,2873.59,1405.31,2862.98,1436C2852.38,1466.69,2841.77,1454.19,2831.17,1418C2820.56,1381.81,2809.96,1321.93,2799.35,1317.2C2788.74,1312.47,2778.14,1362.91,2767.53,1374.8C2756.93,1386.69,2746.32,1360.04,2735.72,1356.8C2725.11,1353.56,2714.51,1373.71,2703.9,1400C2693.29,1426.29,2682.69,1458.7,2672.08,1439.6C2661.48,1420.5,2650.87,1349.89,2640.27,1353.2C2629.66,1356.51,2619.06,1433.72,2608.45,1432.4C2597.84,1431.08,2587.24,1351.21,2576.63,1342.4C2566.03,1333.59,2555.42,1395.84,2544.82,1418C2534.21,1440.16,2523.61,1422.22,2513,1407.2C2502.39,1392.18,2491.79,1380.07,2481.18,1389.2C2470.58,1398.33,2459.97,1428.7,2449.37,1443.2C2438.76,1457.7,2428.16,1456.31,2417.55,1421.6C2406.94,1386.89,2396.34,1318.84,2385.73,1324.4C2375.13,1329.96,2364.52,1409.11,2353.92,1428.8C2343.31,1448.49,2332.71,1408.7,2322.1,1400C2311.49,1391.3,2300.89,1413.68,2290.28,1410.8C2279.68,1407.92,2269.07,1379.78,2258.47,1385.6C2247.86,1391.42,2237.26,1431.21,2226.65,1446.8C2216.04,1462.39,2205.44,1453.77,2194.83,1439.6C2184.23,1425.43,2173.62,1405.69,2163.02,1407.2C2152.41,1408.71,2141.81,1431.46,2131.2,1425.2C2120.59,1418.94,2109.99,1383.66,2099.38,1364C2088.78,1344.34,2078.17,1340.28,2067.57,1338.8C2056.96,1337.32,2046.36,1338.4,2035.75,1346C2025.14,1353.6,2014.54,1367.72,2003.93,1353.2C1993.33,1338.68,1982.72,1295.52,1972.12,1313.6C1961.51,1331.68,1950.91,1411.01,1940.3,1432.4C1929.69,1453.79,1919.09,1417.24,1908.48,1403.6C1897.88,1389.96,1887.27,1399.24,1876.67,1392.8C1866.06,1386.36,1855.46,1364.2,1844.85,1371.2C1834.24,1378.2,1823.64,1414.35,1813.03,1425.2C1802.43,1436.05,1791.82,1421.59,1781.22,1414.4C1770.61,1407.21,1760.01,1407.27,1749.4,1382C1738.79,1356.73,1728.19,1306.12,1717.58,1302.8C1706.98,1299.48,1696.37,1343.44,1685.77,1349.6C1675.16,1355.76,1664.56,1324.12,1653.95,1338.8C1643.34,1353.48,1632.74,1414.47,1622.13,1421.6C1611.53,1428.73,1600.92,1381.99,1590.32,1378.4C1579.71,1374.81,1569.11,1414.36,1558.5,1410.8C1547.89,1407.24,1537.29,1360.58,1526.68,1353.2C1516.08,1345.82,1505.47,1377.73,1494.87,1403.6C1484.26,1429.47,1473.66,1449.32,1463.05,1425.2C1452.44,1401.08,1441.84,1333,1431.23,1338.8C1420.63,1344.6,1410.02,1424.29,1399.42,1443.2C1388.81,1462.11,1378.21,1420.24,1367.6,1400C1356.99,1379.76,1346.39,1381.14,1335.78,1385.6C1325.18,1390.06,1314.57,1397.59,1303.97,1407.2C1293.36,1416.81,1282.76,1428.49,1272.15,1428.8C1261.54,1429.11,1250.94,1418.05,1240.33,1418C1229.73,1417.95,1219.12,1428.9,1208.52,1436C1197.91,1443.1,1187.31,1446.35,1176.7,1425.2C1166.09,1404.05,1155.49,1358.52,1144.88,1342.4C1134.28,1326.28,1123.67,1339.59,1113.07,1360.4C1102.46,1381.21,1091.86,1409.52,1081.25,1421.6C1070.64,1433.68,1060.04,1429.51,1049.43,1428.8C1038.83,1428.09,1028.22,1430.82,1017.62,1410.8C1007.01,1390.78,996.41,1348.01,985.8,1353.2C975.19,1358.39,964.59,1411.55,953.98,1414.4C943.38,1417.25,932.77,1369.8,922.17,1364C911.56,1358.2,900.96,1394.04,890.35,1421.6C879.74,1449.16,869.14,1468.43,858.53,1450.4C847.93,1432.37,837.32,1377.04,826.72,1374.8C816.11,1372.56,805.51,1423.4,794.9,1425.2C784.29,1427,773.69,1379.76,763.08,1367.6C752.48,1355.44,741.87,1378.37,731.27,1385.6C720.66,1392.83,710.06,1384.34,699.45,1396.4C688.84,1408.46,678.24,1441.05,667.63,1446.8C657.03,1452.55,646.42,1431.47,635.82,1425.2C625.21,1418.93,614.61,1427.46,604,1436Z" fill="url(#gd)" fill-opacity="0.4"/><path d="M604,1356.08C614.61,1369.01,625.21,1381.94,635.82,1390.28C646.42,1398.62,657.03,1402.37,667.63,1386.68C678.24,1370.99,688.84,1335.87,699.45,1309.28C710.06,1282.69,720.66,1264.64,731.27,1251.32C741.87,1238,752.48,1229.43,763.08,1259.24C773.69,1289.05,784.29,1357.24,794.9,1337C805.51,1316.76,816.11,1208.08,826.72,1227.56C837.32,1247.04,847.93,1394.68,858.53,1429.16C869.14,1463.64,879.74,1384.95,890.35,1327.64C900.96,1270.33,911.56,1234.41,922.17,1246.28C932.77,1258.15,943.38,1317.8,953.98,1309.28C964.59,1300.76,975.19,1224.07,985.8,1230.08C996.41,1236.09,1007.01,1324.79,1017.62,1361.48C1028.22,1398.17,1038.83,1382.85,1049.43,1385.6C1060.04,1388.35,1070.64,1409.18,1081.25,1371.92C1091.86,1334.66,1102.46,1239.31,1113.07,1199.84C1123.67,1160.37,1134.28,1176.77,1144.88,1211.36C1155.49,1245.95,1166.09,1298.73,1176.7,1337.72C1187.31,1376.71,1197.91,1401.92,1208.52,1403.96C1219.12,1406,1229.73,1384.89,1240.33,1368.68C1250.94,1352.47,1261.54,1341.18,1272.15,1348.16C1282.76,1355.14,1293.36,1380.39,1303.97,1357.52C1314.57,1334.65,1325.18,1263.67,1335.78,1246.28C1346.39,1228.89,1356.99,1265.08,1367.6,1322.6C1378.21,1380.12,1388.81,1458.95,1399.42,1416.2C1410.02,1373.45,1420.63,1209.11,1431.23,1200.92C1441.84,1192.73,1452.44,1340.68,1463.05,1381.28C1473.66,1421.88,1484.26,1355.15,1494.87,1290.2C1505.47,1225.25,1516.08,1162.1,1526.68,1189.76C1537.29,1217.42,1547.89,1335.89,1558.5,1351.4C1569.11,1366.91,1579.71,1279.47,1590.32,1272.92C1600.92,1266.37,1611.53,1340.73,1622.13,1332.68C1632.74,1324.63,1643.34,1234.19,1653.95,1200.2C1664.56,1166.21,1675.16,1188.67,1685.77,1176.44C1696.37,1164.21,1706.98,1117.3,1717.58,1123.52C1728.19,1129.74,1738.79,1189.1,1749.4,1242.32C1760.01,1295.54,1770.61,1342.64,1781.22,1360.76C1791.82,1378.88,1802.43,1368.03,1813.03,1343.48C1823.64,1318.93,1834.24,1280.68,1844.85,1265.72C1855.46,1250.76,1866.06,1259.1,1876.67,1272.2C1887.27,1285.3,1897.88,1303.15,1908.48,1332.68C1919.09,1362.21,1929.69,1403.41,1940.3,1361.48C1950.91,1319.55,1961.51,1194.47,1972.12,1152.32C1982.72,1110.17,1993.33,1150.95,2003.93,1182.92C2014.54,1214.89,2025.14,1238.07,2035.75,1224.32C2046.36,1210.57,2056.96,1159.9,2067.57,1159.16C2078.17,1158.42,2088.78,1207.62,2099.38,1250.6C2109.99,1293.58,2120.59,1330.36,2131.2,1340.6C2141.81,1350.84,2152.41,1334.55,2163.02,1343.48C2173.62,1352.41,2184.23,1386.55,2194.83,1410.08C2205.44,1433.61,2216.04,1446.52,2226.65,1417.64C2237.26,1388.76,2247.86,1318.1,2258.47,1294.88C2269.07,1271.66,2279.68,1295.89,2290.28,1304.96C2300.89,1314.03,2311.49,1307.93,2322.1,1327.64C2332.71,1347.35,2343.31,1392.88,2353.92,1352.12C2364.52,1311.36,2375.13,1184.31,2385.73,1173.2C2396.34,1162.09,2406.94,1266.91,2417.55,1337.72C2428.16,1408.53,2438.76,1445.33,2449.37,1415.12C2459.97,1384.91,2470.58,1287.7,2481.18,1266.8C2491.79,1245.9,2502.39,1301.33,2513,1343.12C2523.61,1384.91,2534.21,1413.07,2544.82,1353.92C2555.42,1294.77,2566.03,1148.32,2576.63,1173.2C2587.24,1198.08,2597.84,1394.28,2608.45,1395.32C2619.06,1396.36,2629.66,1202.22,2640.27,1195.16C2650.87,1188.1,2661.48,1368.12,2672.08,1407.92C2682.69,1447.72,2693.29,1347.32,2703.9,1294.16C2714.51,1241,2725.11,1235.09,2735.72,1240.52C2746.32,1245.95,2756.93,1262.71,2767.53,1236.2C2778.14,1209.69,2788.74,1139.92,2799.35,1159.52C2809.96,1179.12,2820.56,1288.08,2831.17,1362.2C2841.77,1436.32,2852.38,1475.59,2862.98,1402.88C2873.59,1330.17,2884.19,1145.47,2894.8,1161.68C2905.41,1177.89,2916.01,1395.01,2926.62,1414.04C2937.22,1433.07,2947.83,1254.02,2958.43,1199.84C2969.04,1145.66,2979.64,1216.35,2990.25,1253.48C3000.86,1290.61,3011.46,1294.17,3022.07,1244.84C3032.67,1195.51,3043.28,1093.29,3053.88,1131.8C3064.49,1170.31,3075.09,1349.55,3085.7,1390.28C3096.31,1431.01,3106.91,1333.23,3117.52,1262.84C3128.12,1192.45,3138.73,1149.46,3149.33,1181.12C3159.94,1212.78,3170.54,1319.11,3181.15,1353.56C3191.76,1388.01,3202.36,1350.59,3212.97,1278.68C3223.57,1206.77,3234.18,1100.37,3244.78,1126.4C3255.39,1152.43,3265.99,1310.88,3276.6,1377.68C3287.21,1444.48,3297.81,1419.62,3308.42,1370.84C3319.02,1322.06,3329.63,1249.36,3340.23,1196.96C3350.84,1144.56,3361.44,1112.47,3372.05,1152.32C3382.66,1192.17,3393.26,1303.98,3403.87,1364.36C3414.47,1424.74,3425.08,1433.71,3435.68,1395.32C3446.29,1356.93,3456.89,1271.19,3467.5,1185.44" fill="none" stroke="#2464f3" stroke-width="2"/></svg>
<div class="t" style="left:594.70px;top:1609.81px;font-size:29.40px;color:#fafafa;transform:scaleX(1.0260);-webkit-text-stroke:0.35px #fafafa;">Trending up by 5.2% this month</div>
<svg class="b" style="left:1036.00px;top:1608.80px;" width="32" height="32" viewBox="0 0 24 24" fill="none" stroke="#fafafa" stroke-width="2" stroke-linecap="round" stroke-linejoin="round"><polyline points="22 7 13.5 15.5 8.5 10.5 2 17"/><polyline points="16 7 22 7 22 13"/></svg>
<div class="t" style="left:594.73px;top:1656.01px;font-size:29.40px;color:#a1a1a1;transform:scaleX(1.0333);">January - June 2024</div>
</section>
<section class="w">
<div class="b" style="left:544px;top:1766px;width:2983.6px;height:700px;box-sizing:border-box;border:2px solid #262626;border-radius:22px;border-bottom:none;border-bottom-left-radius:0;border-bottom-right-radius:0;"></div>
<h3 class="t" style="left:593.08px;top:1824.91px;font-size:32.70px;color:#fafafa;font-weight:700;transform:scaleX(0.9703);">Page Views</h3>
<p class="t" style="left:593.84px;top:1870.71px;font-size:29.40px;color:#a1a1a1;transform:scaleX(1.0223);">Showing total visitors for the last 3 months</p>
<div class="b" style="left:546px;top:1963.3px;width:2979.6px;height:2px;background:#262626;"></div>
<div class="b" style="left:2860px;top:1768px;width:338.3px;height:195.3px;background:#1e1e1e;"></div>
<div class="b" style="left:2858px;top:1768px;width:2px;height:195.3px;background:#262626;"></div>
<div class="b" style="left:3198.3px;top:1768px;width:2px;height:195.3px;background:#262626;"></div>
<div class="t" style="left:2922.47px;top:1818.86px;font-size:25.20px;color:#a1a1a1;transform:scaleX(1.0289);">Desktop</div>
<div class="t" style="left:2924.14px;top:1855.56px;font-size:63.00px;color:#fafafa;font-weight:700;transform:scaleX(1.0824);">24,828</div>
<div class="t" style="left:3261.83px;top:1818.86px;font-size:25.20px;color:#a1a1a1;transform:scaleX(1.0500);">Mobile</div>
<div class="t" style="left:3263.96px;top:1855.56px;font-size:63.00px;color:#fafafa;font-weight:700;transform:scaleX(1.0254);">25,010</div>
<svg class="b" style="left:0;top:0" width="3555" height="2206" viewBox="0 0 3555 2206"><line x1="604.0" x2="3467.5" y1="2023.8" y2="2023.8" stroke="#1c1c1c" stroke-width="2"/><line x1="604.0" x2="3467.5" y1="2131.8" y2="2131.8" stroke="#1c1c1c" stroke-width="2"/><rect x="732.81" y="2187.24" width="24" height="20.76" fill="#155dfc"/><rect x="827.24" y="2161.32" width="24" height="46.68" fill="#155dfc"/><rect x="1110.53" y="2134.68" width="24" height="73.32" fill="#155dfc"/><rect x="1142.00" y="2193.72" width="24" height="14.28" fill="#155dfc"/><rect x="1330.86" y="2177.16" width="24" height="30.84" fill="#155dfc"/><rect x="1425.29" y="2180.04" width="24" height="27.96" fill="#155dfc"/><rect x="1519.72" y="2128.92" width="24" height="79.08" fill="#155dfc"/><rect x="1645.63" y="2178.60" width="24" height="29.40" fill="#155dfc"/><rect x="1677.11" y="2109.48" width="24" height="98.52" fill="#155dfc"/><rect x="1708.58" y="2097.24" width="24" height="110.76" fill="#155dfc"/><rect x="1740.06" y="2176.44" width="24" height="31.56" fill="#155dfc"/><rect x="1960.40" y="2133.24" width="24" height="74.76" fill="#155dfc"/><rect x="1991.87" y="2115.24" width="24" height="92.76" fill="#155dfc"/><rect x="2054.83" y="2096.52" width="24" height="111.48" fill="#155dfc"/><rect x="2369.60" y="2153.40" width="24" height="54.60" fill="#155dfc"/><rect x="2558.46" y="2117.40" width="24" height="90.60" fill="#155dfc"/><rect x="2621.41" y="2139.72" width="24" height="68.28" fill="#155dfc"/><rect x="2747.32" y="2178.60" width="24" height="29.40" fill="#155dfc"/><rect x="2778.79" y="2140.44" width="24" height="67.56" fill="#155dfc"/><rect x="2873.22" y="2101.56" width="24" height="106.44" fill="#155dfc"/><rect x="2936.18" y="2149.08" width="24" height="58.92" fill="#155dfc"/><rect x="2999.13" y="2188.68" width="24" height="19.32" fill="#155dfc"/><rect x="3030.61" y="2113.80" width="24" height="94.20" fill="#155dfc"/><rect x="3125.04" y="2162.04" width="24" height="45.96" fill="#155dfc"/><rect x="3219.47" y="2110.20" width="24" height="97.80" fill="#155dfc"/><rect x="3313.90" y="2143.32" width="24" height="64.68" fill="#155dfc"/><rect x="3345.37" y="2133.24" width="24" height="74.76" fill="#155dfc"/><rect x="3439.80" y="2134.68" width="24" height="73.32" fill="#155dfc"/></svg>
</section>
</main>
</div></body></html>
